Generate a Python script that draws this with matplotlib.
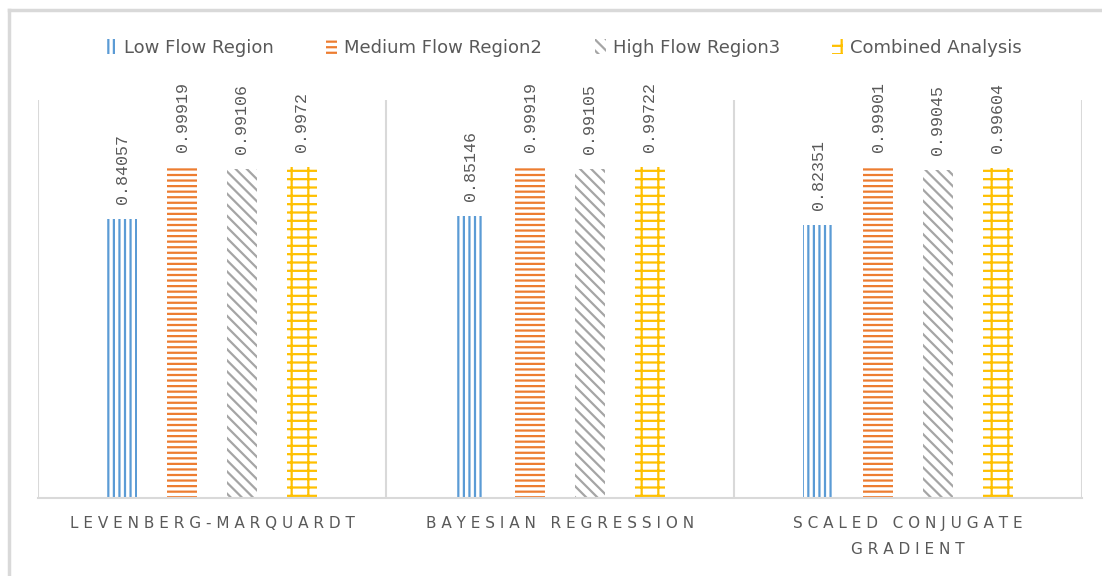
import matplotlib.pyplot as plt
import matplotlib.patches as mpatches
from matplotlib.lines import Line2D
import numpy as np

plt.rcParams['font.family'] = ['DejaVu Sans']
plt.rcParams['hatch.linewidth'] = 1.6

# 数据
categories = ["LEVENBERG-MARQUARDT", "BAYESIAN REGRESSION", "SCALED CONJUGATE\nGRADIENT"]
series_names = ["Low Flow Region", "Medium Flow Region2", "High Flow Region3", "Combined Analysis"]
low_flow = [0.84057, 0.85146, 0.82351]
medium_flow = [0.99919, 0.99919, 0.99901]
high_flow = [0.99106, 0.99105, 0.99045]
combined = [0.9972, 0.99722, 0.99604]
value_labels = [["0.84057", "0.85146", "0.82351"],
                ["0.99919", "0.99919", "0.99901"],
                ["0.99106", "0.99105", "0.99045"],
                ["0.9972", "0.99722", "0.99604"]]

colors = ['#5B9BD5', '#ED7D31', '#A5A5A5', '#FFC000']
hatches = ['|||', '---', '\\\\\\', '+-']
text_color = '#595959'
grid_color = '#D9D9D9'


def spaced(s):
    # 字母间距
    lines = []
    for line in s.split("\n"):
        words = [" ".join(w) for w in line.split(" ")]
        lines.append("   ".join(words))
    return "\n".join(lines)


fig = plt.figure(figsize=(11.02, 5.76), dpi=100)
ax = fig.add_axes([38 / 1102, 1 - 498 / 576, (1082 - 38) / 1102, (498 - 100) / 576])

# 外框（左、上）
fig.add_artist(Line2D([9 / 1102, 9 / 1102], [0, 1 - 10 / 576], transform=fig.transFigure,
                      color=grid_color, linewidth=2.5))
fig.add_artist(Line2D([9 / 1102, 1], [1 - 10 / 576, 1 - 10 / 576], transform=fig.transFigure,
                      color=grid_color, linewidth=2.5))

x = np.arange(len(categories))
width = 0.086
offsets = [-1.5, -0.5, 0.5, 1.5]
all_series = [low_flow, medium_flow, high_flow, combined]

for i, vals in enumerate(all_series):
    pos = x + offsets[i] * width * 2
    ax.bar(pos, vals, width, facecolor='white', edgecolor=colors[i], hatch=hatches[i],
           linewidth=0, label=series_names[i])
    for j, v in enumerate(vals):
        ax.text(pos[j], v + 0.045, value_labels[i][j], rotation=90, ha='center', va='bottom',
                fontsize=12, color=text_color, family='Liberation Mono')

ax.set_xlim(-0.5, len(categories) - 0.5)
ax.set_ylim(0, 1.2)
ax.set_yticks([])
ax.set_xticks([])
for s in ['top', 'left', 'right']:
    ax.spines[s].set_visible(False)
ax.spines['bottom'].set_color(grid_color)
ax.spines['bottom'].set_linewidth(1.5)

# 分隔线
for b in np.arange(-0.5, len(categories), 1.0):
    ax.axvline(b, color=grid_color, linewidth=1.5, ymin=0, ymax=1)

# 类别标签
for j, c in enumerate(categories):
    ax.text(x[j], -0.055, spaced(c), ha='center', va='top', fontsize=11, color=text_color,
            linespacing=1.9)

# 图例
handles = [mpatches.Patch(facecolor='white', edgecolor=colors[i], hatch=hatches[i], linewidth=0)
           for i in range(4)]
fig.legend(handles, series_names, loc='center', bbox_to_anchor=(0.512, 1 - 48 / 576), ncol=4,
           frameon=False, fontsize=13, labelcolor=text_color, handlelength=0.6, handleheight=0.9,
           handletextpad=0.4, columnspacing=2.9)

fig.savefig('out.png', dpi=100)
